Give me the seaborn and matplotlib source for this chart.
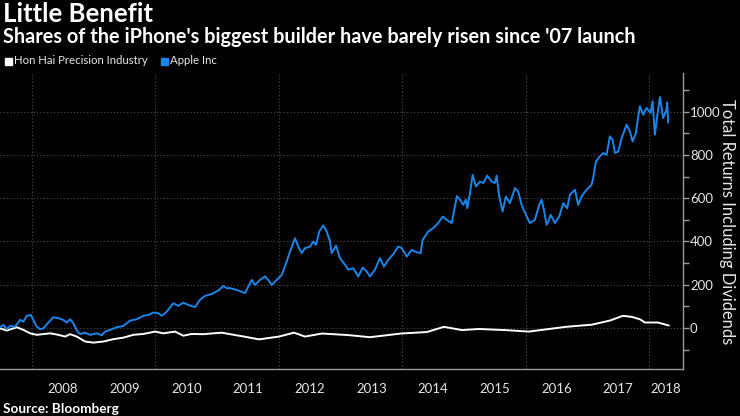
import matplotlib
matplotlib.use("Agg")
import matplotlib.pyplot as plt
import seaborn as sns
import pandas as pd
from matplotlib.ticker import FixedLocator

# ---- data (decimal years, total return %) ----
apple_t = [2007.482, 2007.535, 2007.590, 2007.644, 2007.725, 2007.806, 2007.859, 2007.914,
           2007.979, 2008.021, 2008.076, 2008.130, 2008.183, 2008.264, 2008.345, 2008.426,
           2008.507, 2008.562, 2008.616, 2008.669, 2008.734, 2008.778, 2008.859, 2008.940,
           2009.048, 2009.129, 2009.183, 2009.264, 2009.372, 2009.479, 2009.588, 2009.696,
           2009.803, 2009.884, 2009.965, 2010.046, 2010.101, 2010.182, 2010.289, 2010.370,
           2010.451, 2010.532, 2010.641, 2010.722, 2010.803, 2010.911, 2011.018, 2011.099,
           2011.154, 2011.208, 2011.316, 2011.451, 2011.559, 2011.613, 2011.694, 2011.775,
           2011.828, 2011.884, 2011.965, 2012.046, 2012.127, 2012.180, 2012.261, 2012.315,
           2012.370, 2012.423, 2012.504, 2012.558, 2012.601, 2012.655, 2012.720, 2012.775,
           2012.828, 2012.856, 2012.926, 2012.990, 2013.071, 2013.125, 2013.206, 2013.287,
           2013.358, 2013.423, 2013.476, 2013.557, 2013.638, 2013.703, 2013.773, 2013.854,
           2013.935, 2013.990, 2014.071, 2014.152, 2014.233, 2014.298, 2014.330, 2014.421,
           2014.502, 2014.583, 2014.654, 2014.719, 2014.800, 2014.886, 2014.935, 2014.988,
           2015.032, 2015.053, 2015.097, 2015.140, 2015.194, 2015.259, 2015.312, 2015.377,
           2015.448, 2015.501, 2015.529, 2015.571, 2015.626, 2015.680, 2015.745, 2015.826,
           2015.879, 2015.934, 2016.004, 2016.068, 2016.149, 2016.219, 2016.258, 2016.295,
           2016.339, 2016.365, 2016.404, 2016.474, 2016.543, 2016.608, 2016.673, 2016.717,
           2016.798, 2016.851, 2016.906, 2016.987, 2017.068, 2017.094, 2017.138, 2017.203,
           2017.256, 2017.311, 2017.365, 2017.409, 2017.446, 2017.500, 2017.555, 2017.636,
           2017.689, 2017.733, 2017.786, 2017.824, 2017.851, 2017.904, 2017.959, 2018.024,
           2018.057, 2018.094, 2018.131, 2018.175, 2018.228, 2018.283, 2018.293, 2018.309]
apple_v = [3, 14, -6, 9, 6, 37, 29, 56,
           60, 37, 6, -6, -2, 25, 49, 45,
           37, 25, 40, 22, -17, -28, -22, -32,
           -25, -34, -17, -9, 3, 9, 34, 40,
           56, 60, 71, 68, 56, 75, 114, 102,
           117, 106, 96, 130, 148, 157, 173, 194,
           184, 184, 176, 161, 222, 199, 222, 238,
           222, 199, 222, 245, 307, 353, 415, 376,
           346, 369, 376, 400, 384, 446, 474, 446,
           400, 346, 381, 323, 292, 269, 276, 238,
           279, 261, 238, 269, 323, 284, 315, 341,
           376, 369, 330, 361, 350, 346, 407, 446,
           462, 485, 515, 500, 485, 610, 593, 569,
           593, 554, 623, 708, 654, 677, 670, 704,
           677, 670, 704, 608, 539, 608, 577, 647,
           631, 569, 523, 485, 500, 569, 593, 546,
           477, 492, 523, 485, 515, 577, 554, 616,
           639, 569, 608, 639, 662, 693, 770, 793,
           809, 801, 886, 870, 809, 816, 878, 940,
           909, 863, 901, 978, 1025, 986, 1017, 994,
           1048, 894, 978, 1068, 971, 1009, 1043, 950]

honhai_t = [2007.482, 2007.590, 2007.752, 2007.859, 2007.968, 2008.076, 2008.292, 2008.426,
            2008.535, 2008.616, 2008.724, 2008.859, 2008.993, 2009.155, 2009.317, 2009.479,
            2009.641, 2009.803, 2009.993, 2010.127, 2010.317, 2010.451, 2010.587, 2010.775,
            2010.937, 2011.074, 2011.208, 2011.435, 2011.678, 2012.002, 2012.245, 2012.423,
            2012.699, 2013.120, 2013.476, 2013.979, 2014.400, 2014.675, 2014.967, 2015.242,
            2015.664, 2016.053, 2016.377, 2016.652, 2017.073, 2017.365, 2017.575, 2017.721,
            2017.851, 2017.932, 2018.143, 2018.321]
honhai_v = [-2, -12, 3, -9, -25, -32, -25, -32,
            -40, -29, -40, -63, -68, -63, -52, -45,
            -32, -28, -17, -25, -17, -36, -28, -29,
            -25, -22, -29, -40, -53, -40, -22, -40,
            -26, -33, -43, -26, -19, 5, -10, -5,
            -10, -17, -5, 5, 15, 34, 56, 51,
            40, 25, 25, 11]

years = list(range(2008, 2019))
year_labels = [str(y) for y in years]
y_ticks = [0, 200, 400, 600, 800, 1000]
series_names = ["Hon Hai Precision Industry", "Apple Inc"]
colors = {"Hon Hai Precision Industry": "#ffffff", "Apple Inc": "#1a86ea"}

df = pd.concat([
    pd.DataFrame({"t": honhai_t, "v": honhai_v, "s": series_names[0]}),
    pd.DataFrame({"t": apple_t, "v": apple_v, "s": series_names[1]}),
])

sns.set_style("dark")
plt.rcParams["font.family"] = ["Lato", "DejaVu Sans"]

BG = "#000000"
GRID = "#4a4a4a"
AX = "#9a9a9a"
TXT = "#e6e6e6"

fig = plt.figure(figsize=(7.4, 4.16), dpi=100, facecolor=BG)
ax = fig.add_axes([0.0, 0.113, 0.923, 0.712])
ax.set_facecolor(BG)

sns.lineplot(data=df, x="t", y="v", hue="s", palette=colors, hue_order=series_names,
             linewidth=1.4, legend=False, ax=ax, estimator=None, sort=False)
ax.set_xlabel("")
ax.set_ylabel("")

ax.set_xlim(2007.48, 2018.55)
ax.set_ylim(-190, 1180)

# y axis on right
ax.yaxis.tick_right()
ax.yaxis.set_major_locator(FixedLocator(y_ticks))
ax.yaxis.set_minor_locator(FixedLocator([-100, 100, 300, 500, 700, 900, 1100]))
ax.tick_params(axis="y", which="both", direction="out", length=4, width=1, color=AX,
               labelsize=9.5, labelcolor=TXT, pad=1, right=True, left=False)
fig.text(727 / 740, 1 - 222 / 416, "Total Returns Including Dividends", rotation=270,
         color=TXT, fontsize=11.9, ha="center", va="center")

# x axis: separators at year boundaries, labels at mid-year
ax.xaxis.set_major_locator(FixedLocator(years))
ax.xaxis.set_major_formatter(plt.NullFormatter())
mids = [y + 0.5 for y in years[:-1]] + [2018.275]
ax.xaxis.set_minor_locator(FixedLocator(mids))
ax.xaxis.set_minor_formatter(plt.FixedFormatter(year_labels))
ax.tick_params(axis="x", which="major", direction="out", length=23, width=1, color=AX)
ax.tick_params(axis="x", which="minor", length=0, labelsize=9.5, labelcolor=TXT, pad=10)

# grid
ax.grid(False)
for yv in y_ticks:
    ax.axhline(yv, color=GRID, lw=0.8, ls=(0, (1, 2)), zorder=0)
for xv in years[::2]:
    ax.axvline(xv, color=GRID, lw=0.8, ls=(0, (1, 2)), zorder=0)

for side in ["left", "top"]:
    ax.spines[side].set_visible(False)
for side in ["right", "bottom"]:
    ax.spines[side].set_visible(True)
    ax.spines[side].set_color(AX)
    ax.spines[side].set_linewidth(1)

# titles
fig.text(0.004, 1 - 14 / 416, "Little Benefit", color="white", fontsize=18.5,
         fontweight="bold", ha="left", va="center")
fig.text(0.004, 1 - 37 / 416,
         "Shares of the iPhone's biggest builder have barely risen since '07 launch",
         color="white", fontsize=14.3, fontweight="bold", ha="left", va="center")

# legend
ly = 1 - 61 / 416
fig.patches.append(plt.Rectangle((5 / 740, 1 - 65 / 416), 7 / 740, 7 / 416,
                                 transform=fig.transFigure, color="white"))
fig.text(14 / 740, ly, series_names[0], color=TXT, fontsize=8.2, ha="left", va="center")
fig.patches.append(plt.Rectangle((161 / 740, 1 - 65 / 416), 7 / 740, 7 / 416,
                                 transform=fig.transFigure, color=colors["Apple Inc"]))
fig.text(170 / 740, ly, series_names[1], color=TXT, fontsize=8.2, ha="left", va="center")

fig.text(0.004, 1 - 409 / 416, "Source: Bloomberg", color="white", fontsize=9.8,
         fontweight="bold", ha="left", va="center")

fig.savefig("out.png", dpi=100, facecolor=BG)
